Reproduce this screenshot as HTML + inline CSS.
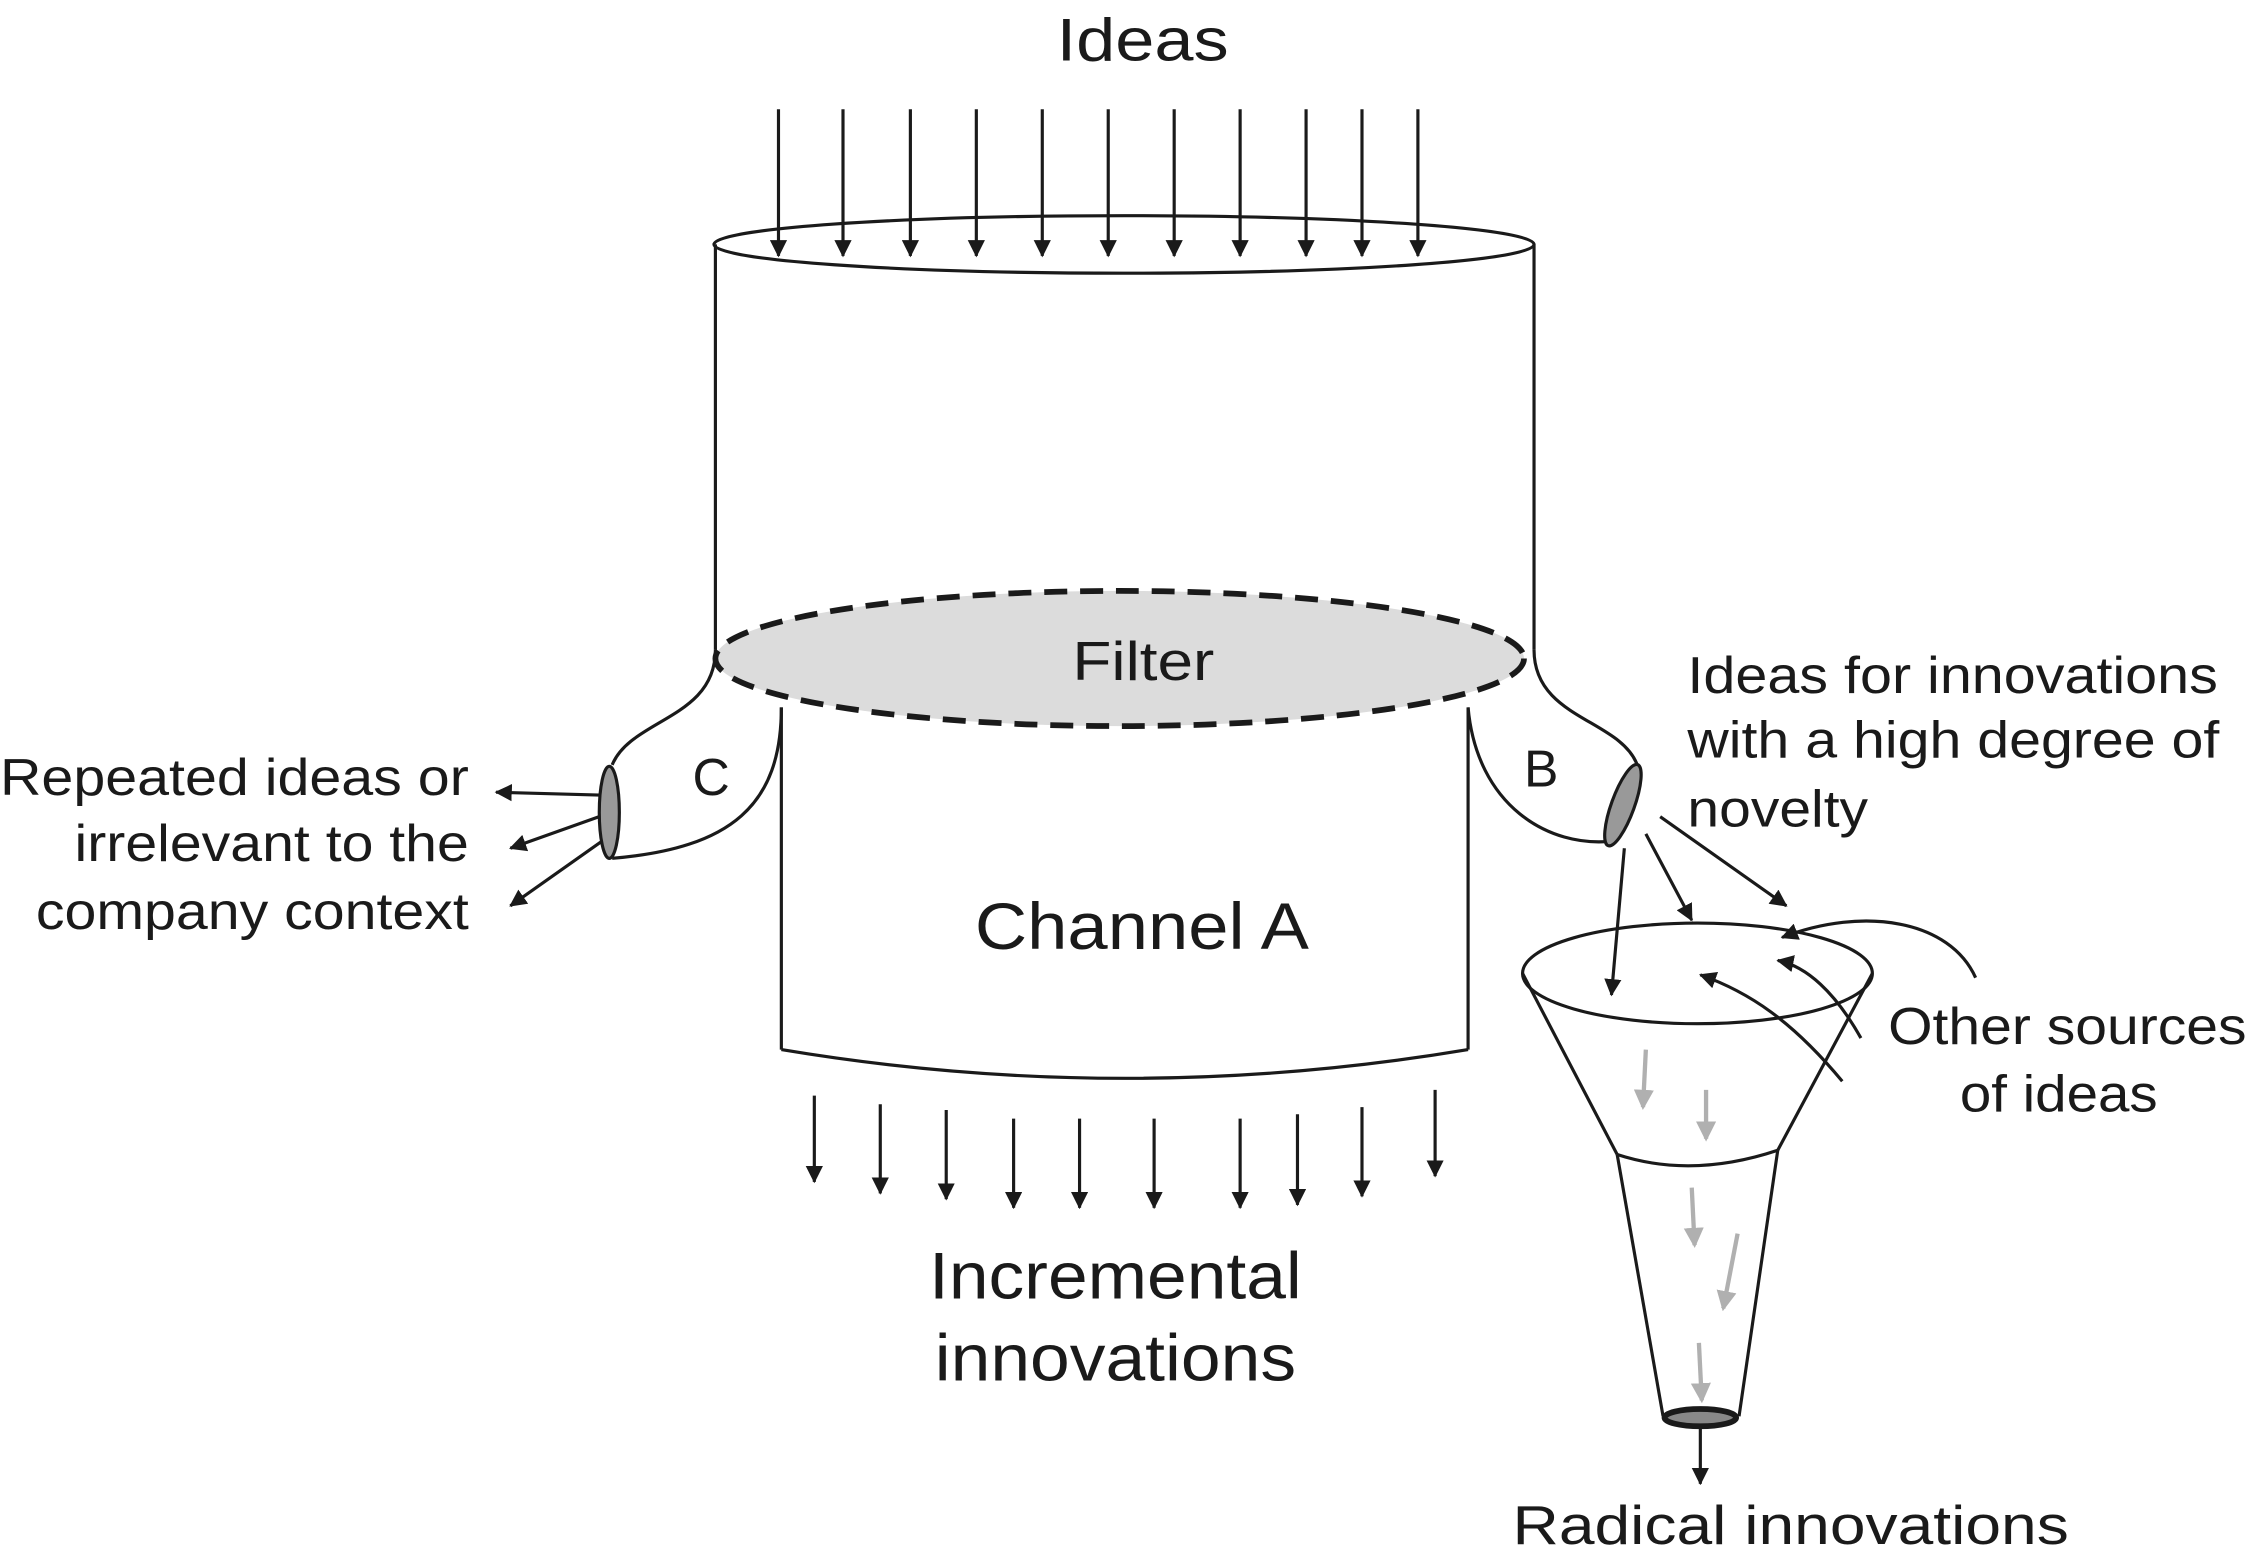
<!DOCTYPE html>
<html><head><meta charset="utf-8"><style>
html,body{margin:0;padding:0;background:#fff;}
svg{display:block;}
text{font-family:"Liberation Sans",Arial,Helvetica,sans-serif;fill:#1a1a1a;}
</style></head><body>
<svg width="2248" height="1560" viewBox="0 0 1568 1085" preserveAspectRatio="none" xmlns="http://www.w3.org/2000/svg">
<defs>
<marker id="a" markerWidth="12" markerHeight="12" refX="11" refY="6" orient="auto" markerUnits="userSpaceOnUse" viewBox="0 0 12 12"><path d="M0,0 L12,6 L0,12 Z" fill="#1a1a1a"/></marker>
<marker id="ag" markerWidth="14" markerHeight="14" refX="12" refY="7" orient="auto" markerUnits="userSpaceOnUse" viewBox="0 0 14 14"><path d="M0,0 L14,7 L0,14 Z" fill="#b0b0b0"/></marker>
</defs>
<g stroke="#1a1a1a" stroke-width="2.2" fill="none">
<ellipse cx="784" cy="170" rx="286" ry="20"/>
<line x1="499" y1="170" x2="499" y2="452"/>
<line x1="1070" y1="170" x2="1070" y2="452"/>
<g marker-end="url(#a)">
<line x1="543" y1="76" x2="543" y2="178"/><line x1="588" y1="76" x2="588" y2="178"/><line x1="635" y1="76" x2="635" y2="178"/><line x1="681" y1="76" x2="681" y2="178"/><line x1="727" y1="76" x2="727" y2="178"/><line x1="773" y1="76" x2="773" y2="178"/><line x1="819" y1="76" x2="819" y2="178"/><line x1="865" y1="76" x2="865" y2="178"/><line x1="911" y1="76" x2="911" y2="178"/><line x1="950" y1="76" x2="950" y2="178"/><line x1="989" y1="76" x2="989" y2="178"/>
</g>
<line x1="545" y1="492" x2="545" y2="730"/>
<line x1="1024" y1="492" x2="1024" y2="730"/>
<path d="M545,730 Q785,770 1024,730"/>
<g marker-end="url(#a)">
<line x1="568" y1="762" x2="568" y2="822"/><line x1="614" y1="768" x2="614" y2="830"/><line x1="660" y1="772" x2="660" y2="834"/><line x1="707" y1="778" x2="707" y2="840"/><line x1="753" y1="778" x2="753" y2="840"/><line x1="805" y1="778" x2="805" y2="840"/><line x1="865" y1="778" x2="865" y2="840"/><line x1="905" y1="775" x2="905" y2="838"/><line x1="950" y1="770" x2="950" y2="832"/><line x1="1001" y1="758" x2="1001" y2="818"/>
</g>
<path d="M499,452 C499,500 440,500 427,532"/>
<path d="M545,492 C545,560 510,590 427,597"/>
<ellipse cx="425" cy="565" rx="7" ry="32" fill="#999"/>
<g marker-end="url(#a)">
<line x1="418" y1="553" x2="346" y2="551"/>
<line x1="418" y1="568" x2="356" y2="590"/>
<line x1="420" y1="585" x2="356" y2="630"/>
</g>
<path d="M1070,452 C1070,500 1130,500 1142,532"/>
<path d="M1024,492 C1030,560 1080,590 1125,585"/>
<ellipse cx="1132" cy="560" rx="8" ry="30" fill="#999" transform="rotate(20 1132 560)"/>
<g marker-end="url(#a)">
<line x1="1133" y1="590" x2="1124" y2="692"/>
<line x1="1148" y1="580" x2="1180" y2="640"/>
<line x1="1158" y1="568" x2="1246" y2="630"/>
</g>
<ellipse cx="1184" cy="677" rx="122" ry="35"/>
<line x1="1062" y1="677" x2="1128" y2="803"/>
<line x1="1306" y1="677" x2="1240" y2="800"/>
<path d="M1128,803 Q1180,820 1240,800"/>
<line x1="1128" y1="803" x2="1160" y2="985"/>
<line x1="1240" y1="800" x2="1213" y2="985"/>
<ellipse cx="1186" cy="986" rx="25" ry="6" stroke-width="4" fill="#888"/>
<line x1="1186" y1="992" x2="1186" y2="1032" marker-end="url(#a)"/>
<g marker-end="url(#a)">
<path d="M1378,680 C1360,640 1300,630 1243,652"/>
<path d="M1298,722 C1280,690 1260,672 1240,668"/>
<path d="M1285,752 C1250,710 1220,690 1186,678"/>
</g>
<g stroke="#b0b0b0" stroke-width="3" marker-end="url(#ag)">
<line x1="1148" y1="730" x2="1146" y2="770"/>
<line x1="1190" y1="758" x2="1190" y2="792"/>
<line x1="1180" y1="826" x2="1182" y2="866"/>
<line x1="1212" y1="858" x2="1202" y2="910"/>
<line x1="1185" y1="934" x2="1187" y2="974"/>
</g>
</g>
<ellipse cx="781" cy="458" rx="282" ry="47" fill="#dcdcdc" stroke="#1a1a1a" stroke-width="4" stroke-dasharray="16 9"/>
<g lengthAdjust="spacingAndGlyphs">
<text x="737" y="42" font-size="42" textLength="120" lengthAdjust="spacingAndGlyphs">Ideas</text>
<text x="748" y="473" font-size="38" textLength="99" lengthAdjust="spacingAndGlyphs">Filter</text>
<text x="680" y="660" font-size="46" textLength="233" lengthAdjust="spacingAndGlyphs">Channel A</text>
<text x="648" y="903" font-size="46" textLength="260" lengthAdjust="spacingAndGlyphs">Incremental</text>
<text x="652" y="960" font-size="46" textLength="252" lengthAdjust="spacingAndGlyphs">innovations</text>
<text x="496" y="553" text-anchor="middle" font-size="36">C</text>
<text x="1075" y="547" text-anchor="middle" font-size="36">B</text>
<g font-size="36">
<text x="0" y="553" textLength="327" lengthAdjust="spacingAndGlyphs">Repeated ideas or</text>
<text x="52" y="599" textLength="275" lengthAdjust="spacingAndGlyphs">irrelevant to the</text>
<text x="25" y="646" textLength="302" lengthAdjust="spacingAndGlyphs">company context</text>
<text x="1177" y="482" textLength="370" lengthAdjust="spacingAndGlyphs">Ideas for innovations</text>
<text x="1177" y="527" textLength="371" lengthAdjust="spacingAndGlyphs">with a high degree of</text>
<text x="1177" y="575" textLength="126" lengthAdjust="spacingAndGlyphs">novelty</text>
<text x="1317" y="726" textLength="250" lengthAdjust="spacingAndGlyphs">Other sources</text>
<text x="1367" y="773" textLength="138" lengthAdjust="spacingAndGlyphs">of ideas</text>
<text x="1055" y="1074" font-size="38" textLength="388" lengthAdjust="spacingAndGlyphs">Radical innovations</text>
</g>
</g>
</svg>
</body></html>
